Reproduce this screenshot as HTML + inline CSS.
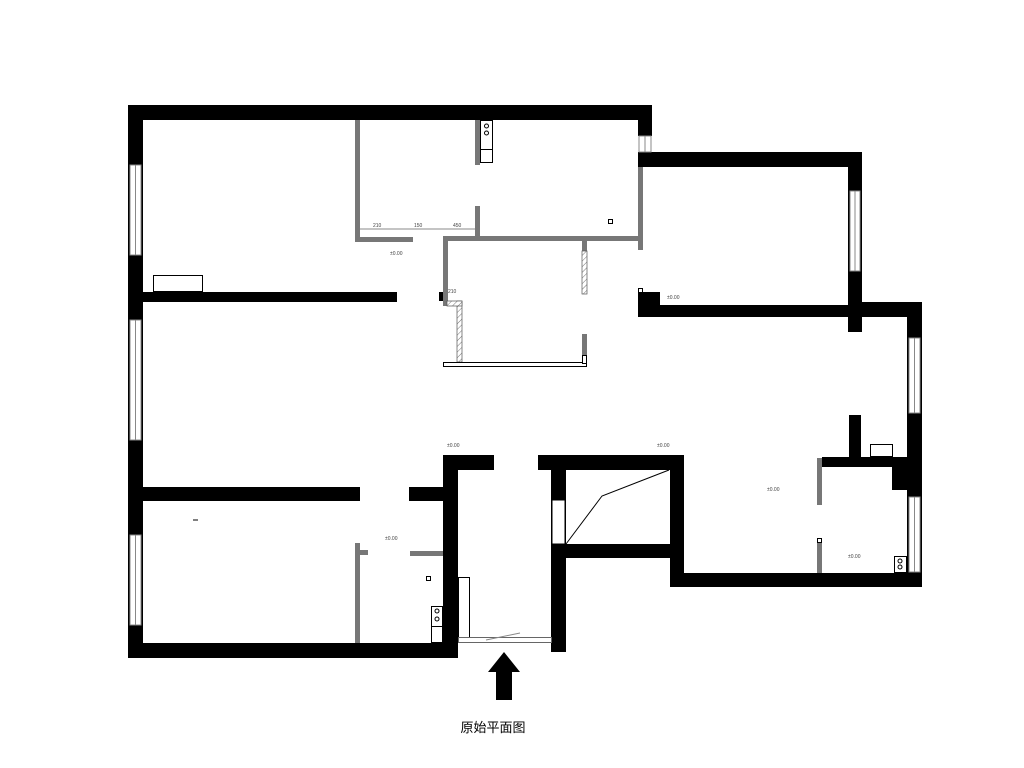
<!DOCTYPE html>
<html><head><meta charset="utf-8"><style>
html,body{margin:0;padding:0;background:#fff;}
svg{display:block}
</style></head><body>
<svg width="1024" height="768" viewBox="0 0 1024 768" xmlns="http://www.w3.org/2000/svg">
<defs>
<pattern id="h" width="4" height="4" patternUnits="userSpaceOnUse" patternTransform="rotate(45)">
<rect width="4" height="4" fill="#fff"/><line x1="0" y1="0" x2="0" y2="4" stroke="#777" stroke-width="1"/>
</pattern>
</defs>
<rect width="1024" height="768" fill="#fff"/>
<g fill="#000">
<!-- top & left -->
<rect x="128" y="105" width="524" height="15"/>
<rect x="128" y="105" width="15" height="553"/>
<rect x="638" y="105" width="14" height="31"/>
<rect x="638" y="152" width="224" height="15"/>
<rect x="848" y="152" width="14" height="180"/>
<rect x="638" y="305" width="222" height="12"/>
<rect x="638" y="292" width="22" height="25"/>
<rect x="848" y="302" width="74" height="15"/>
<rect x="907" y="302" width="15" height="285"/>
<rect x="849" y="415" width="12" height="48"/>
<rect x="822" y="457" width="86" height="10"/>
<polygon points="892,467 908,467 908,490 892,490"/>
<rect x="670" y="573" width="252" height="14"/>
<rect x="670" y="455" width="14" height="132"/>
<rect x="538" y="455" width="146" height="15"/>
<rect x="551" y="455" width="15" height="197"/>
<rect x="551" y="544" width="133" height="14"/>
<rect x="443" y="455" width="15" height="203"/>
<rect x="443" y="455" width="51" height="15"/>
<rect x="128" y="643" width="330" height="15"/>
<rect x="143" y="487" width="217" height="14"/>
<rect x="409" y="487" width="34" height="14"/>
<rect x="143" y="292" width="254" height="10"/>
<rect x="439" y="292" width="5" height="9"/>
</g>
<!-- windows -->
<g fill="#fff" stroke="#888" stroke-width="1">
<rect x="130" y="165" width="11" height="90"/>
<rect x="130" y="320" width="11" height="120"/>
<rect x="130" y="535" width="11" height="90"/>
<rect x="850" y="191" width="10" height="80"/>
<rect x="909" y="338" width="11" height="75"/>
<rect x="909" y="497" width="11" height="75"/>
<rect x="639" y="136" width="12" height="16"/>
<rect x="552" y="500" width="13" height="44" stroke="#000"/>
</g>
<g stroke="#888" stroke-width="1">
<line x1="135.5" y1="165" x2="135.5" y2="255"/><line x1="135.5" y1="320" x2="135.5" y2="440"/><line x1="135.5" y1="535" x2="135.5" y2="625"/>
<line x1="855" y1="191" x2="855" y2="271"/><line x1="914.5" y1="338" x2="914.5" y2="413"/><line x1="914.5" y1="497" x2="914.5" y2="572"/>
<line x1="645" y1="136" x2="645" y2="152"/>
</g>
<!-- gray partitions -->
<g fill="#777">
<rect x="355" y="120" width="5" height="122"/>
<rect x="355" y="237" width="58" height="5"/>
<rect x="475" y="120" width="5" height="45"/>
<rect x="475" y="206" width="5" height="31"/>
<rect x="443" y="236" width="196" height="5"/>
<rect x="638" y="167" width="5" height="83"/>
<rect x="443" y="236" width="5" height="70"/>
<rect x="582" y="241" width="5" height="10"/>
<rect x="582" y="334" width="5" height="21"/>
<rect x="355" y="543" width="5" height="100"/>
<rect x="360" y="550" width="8" height="5"/>
<rect x="410" y="551" width="33" height="5"/>
<rect x="817" y="458" width="5" height="47"/>
<rect x="817" y="541" width="5" height="32"/>
</g>
<rect x="582" y="251" width="5" height="43" fill="url(#h)" stroke="#555" stroke-width="0.7"/>
<rect x="457" y="301" width="5" height="61" fill="url(#h)" stroke="#555" stroke-width="0.7"/>
<rect x="447" y="301" width="15" height="5" fill="url(#h)" stroke="#555" stroke-width="0.7"/>
<g fill="#fff" stroke="#000" stroke-width="1">
<rect x="443.5" y="362.5" width="143" height="4"/>
<rect x="582.5" y="355.5" width="4" height="8"/>
<rect x="153.5" y="275.5" width="49" height="16"/>
<rect x="480.5" y="120.5" width="12" height="42"/>
<line x1="480" y1="149.5" x2="492" y2="149.5"/>
<rect x="458.5" y="577.5" width="11" height="60"/>
<rect x="458.5" y="637.5" width="93" height="5" stroke="#666"/>
<rect x="431.5" y="606.5" width="11" height="36"/>
<rect x="431.5" y="626.5" width="11" height="16"/>
<rect x="894.5" y="556.5" width="12" height="16"/>
<rect x="870.5" y="444.5" width="22" height="12"/>
<rect x="638.5" y="288.5" width="4" height="4"/>
<rect x="817.5" y="538.5" width="4" height="4"/>
</g>
<g fill="none" stroke="#000" stroke-width="1">
<circle cx="486.5" cy="126" r="2"/><circle cx="486.5" cy="133" r="2"/>
<circle cx="437" cy="611" r="2"/><circle cx="437" cy="619" r="2"/>
<circle cx="900" cy="561" r="2"/><circle cx="900" cy="567" r="2"/>
<polyline points="566,544 602,496 669,470"/>
<rect x="426.5" y="576.5" width="4" height="4"/>
<rect x="608.5" y="219.5" width="4" height="4"/>
</g>
<g stroke="#888" stroke-width="1">
<line x1="360" y1="229" x2="475" y2="229"/>
<line x1="486" y1="640" x2="520" y2="633"/>
<line x1="193" y1="520" x2="198" y2="520" stroke="#000"/>
</g>
<!-- tiny labels -->
<g font-family="Liberation Sans, sans-serif" font-size="5" fill="#444">
<text x="373" y="227">210</text><text x="414" y="227">150</text><text x="453" y="227">450</text>
<text x="390" y="255">±0.00</text><text x="667" y="299">±0.00</text><text x="447" y="447">±0.00</text>
<text x="657" y="447">±0.00</text><text x="767" y="491">±0.00</text><text x="385" y="540">±0.00</text>
<text x="848" y="558">±0.00</text><text x="448" y="293">210</text>
</g>
<!-- arrow -->
<polygon points="488,672 504,652 520,672 512,672 512,700 496,700 496,672" fill="#000"/>
<text x="493" y="732" text-anchor="middle" font-family="Liberation Sans, 'Noto Sans CJK SC', sans-serif" font-size="13" fill="#000">原始平面图</text>
</svg>
</body></html>
